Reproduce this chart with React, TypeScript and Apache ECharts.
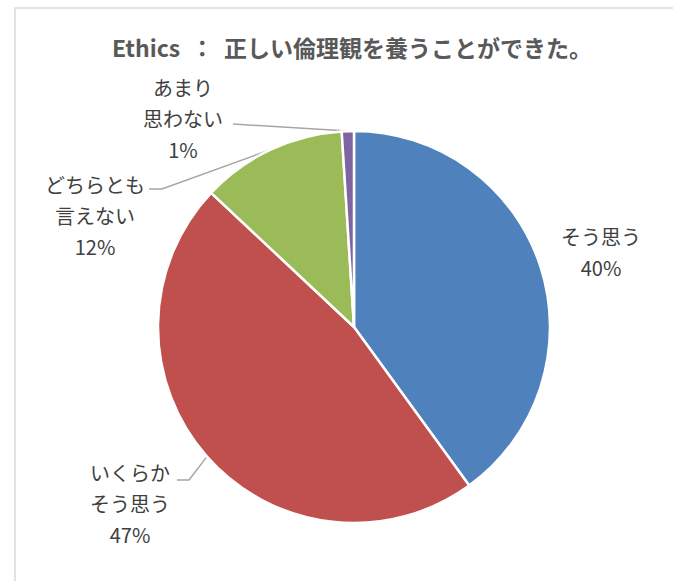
import React, { useEffect, useRef } from "react";
import * as echarts from "echarts";

const titleText = "Ethics  ：  正しい倫理観を養うことができた。";
const categories = ["そう思う", "いくらか\nそう思う", "どちらとも\n言えない", "あまり\n思わない"];
const values = [40, 47, 12, 1];
const colors = ["#4f81bd", "#c0504d", "#9bbb59", "#8064a2"];

// label text centres (layout only)
const labelSpots: Record<number, [number, number]> = {
  0: [601, 252],
  1: [130, 503],
  2: [95, 215],
  3: [183, 118],
};
// leader line end: offset from the label's right edge / centre, and horizontal tail length
const guides: Record<number, { gap: number; dy: number; len: number }> = {
  1: { gap: 7, dy: -23, len: 12 },
  2: { gap: 4, dy: -26, len: 13 },
  3: { gap: 10, dy: 6, len: 0 },
};

export default function App() {
  const ref = useRef<HTMLDivElement>(null);
  useEffect(() => {
    if (!ref.current) return;
    const chart = echarts.init(ref.current, undefined, { renderer: "svg" });
    chart.setOption({
      animation: false,
      backgroundColor: "#ffffff",
      graphic: [
        {
          type: "rect",
          shape: { x: 15, y: 8, width: 700, height: 620 },
          style: { fill: "none", stroke: "#d9d9d9", lineWidth: 1.5 },
          silent: true,
        },
        {
          type: "text",
          x: 352,
          y: 47,
          style: {
            text: titleText,
            fontSize: 23,
            fontWeight: "bold",
            fill: "#595959",
            align: "center",
            verticalAlign: "middle",
            fontFamily: "'Noto Sans CJK JP', sans-serif",
          },
        },
      ],
      series: [
        {
          type: "pie",
          center: [354, 327],
          radius: [0, 196],
          startAngle: 90,
          clockwise: true,
          percentPrecision: 0,
          itemStyle: { borderColor: "#ffffff", borderWidth: 2.5 },
          label: {
            show: true,
            position: "outside",
            formatter: "{b}\n{d}%",
            fontSize: 20,
            lineHeight: 31,
            color: "#404040",
            align: "center",
            fontFamily: "'Noto Sans CJK JP', sans-serif",
          },
          labelLine: {
            show: true,
            lineStyle: { color: "#a6a6a6", width: 1.5 },
          },
          labelLayout: (params: any) => {
            const i = params.dataIndex;
            const [cx, cy] = labelSpots[i];
            const out: any = { x: cx, y: cy, align: "center", verticalAlign: "middle" };
            const g = guides[i];
            const native = params.labelLinePoints;
            if (g && native && native[0]) {
              const w = params.labelRect.width;
              const end = [cx + w / 2 + g.gap, cy + g.dy];
              const elbow = [end[0] + g.len, end[1]];
              out.labelLinePoints = [native[0], elbow, end];
            }
            return out;
          },
          data: categories.map((c, i) => ({
            name: c,
            value: values[i],
            itemStyle: { color: colors[i] },
            labelLine: { show: i !== 0 },
            label: i === 0 ? { width: 100 } : undefined,
          })),
        },
      ],
    });
    return () => chart.dispose();
  }, []);
  return (
    <div
      ref={ref}
      style={{ position: "absolute", left: 0, top: 0, width: 673, height: 581 }}
    />
  );
}
